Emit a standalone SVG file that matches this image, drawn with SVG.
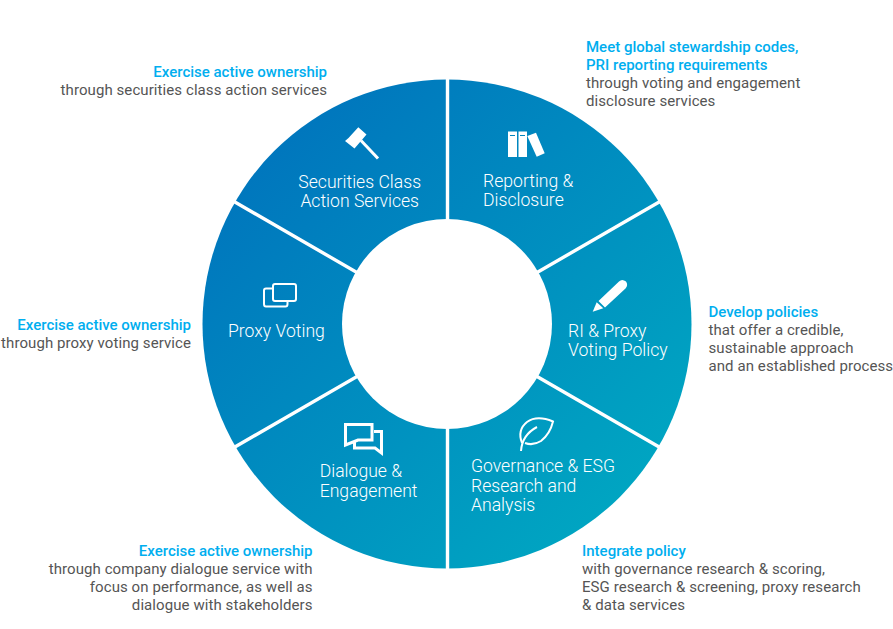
<svg xmlns="http://www.w3.org/2000/svg" width="893" height="629" viewBox="0 0 893 629">
<style>
.l{font-family:Roboto,"Liberation Sans",sans-serif;font-weight:300;font-size:17.6px;fill:#fff}
.h{font-family:Roboto,"Liberation Sans",sans-serif;font-weight:500;font-size:15px;fill:#00aeef}
.b{font-family:Roboto,"Liberation Sans",sans-serif;font-weight:400;font-size:15px;letter-spacing:.08px;fill:#555}
.e{text-anchor:end}
.s{fill:none;stroke:#fff;stroke-width:2}
.t{fill:none;stroke:#fff;stroke-width:3}
.f{fill:#fff}
.g{stroke:#fff;stroke-width:3.400;fill:none}
</style>
<defs>
<linearGradient id="grad" gradientUnits="userSpaceOnUse" x1="250" y1="120" x2="650" y2="530">
<stop offset="0" stop-color="#0073bd"/><stop offset="1" stop-color="#00a9c2"/>
</linearGradient>
</defs>
<rect width="893" height="629" fill="#fff"/>
<circle id="ring" cx="447" cy="324" r="244.500" fill="url(#grad)"/>
<g id="connectors">
<path class="g" d="M447.500 76V572M234 201.500L660 447.500M660 201.500L234 447.500"/>
</g>
<circle id="hub" cx="447" cy="324" r="105" fill="#fff"/>
<g id="securities">
<path class="f" d="M358.300 127.300L366.500 134.500L354.500 148.500L345 141L348.500 138Z"/>
<path class="t" d="M361 140.500L378 158.500" stroke-width="4"/>
<text class="l" text-anchor="middle" x="359.700" y="188">Securities Class</text>
<text class="l" text-anchor="middle" x="359.700" y="207">Action Services</text>
<text class="h e" x="327" y="77">Exercise active ownership</text>
<text class="b e" x="327" y="95">through securities class action services</text>
</g>
<g id="reporting">
<path class="f" fill-rule="evenodd" d="M508 131.500H517V157H508ZM510 135V136H515V135Z"/>
<path class="f" fill-rule="evenodd" d="M518.500 131.500H527V157H518.500ZM520 135V136H525V135Z"/>
<path class="f" d="M527.300 136L536 132.700L544.700 153.300L536.700 156.700Z"/>
<text class="l" x="483" y="187">Reporting &amp;</text>
<text class="l" x="483" y="206">Disclosure</text>
<text class="h" x="586" y="52">Meet global stewardship codes,</text>
<text class="h" x="586" y="70">PRI reporting requirements</text>
<text class="b" x="586" y="88">through voting and engagement</text>
<text class="b" x="586" y="106">disclosure services</text>
</g>
<g id="policy">
<path class="f" d="M598.500 301L619 281.500Q622 278.500 626 281.500Q628.500 285 625.500 288.500L605 307.500Z"/>
<path class="f" d="M596.700 302.300L603.300 308.300L592.700 311.700Z"/>
<text class="l" x="568" y="337">RI &amp; Proxy</text>
<text class="l" x="568" y="356">Voting Policy</text>
<text class="h" x="708.500" y="317">Develop policies</text>
<text class="b" x="708.500" y="335">that offer a credible,</text>
<text class="b" x="708.500" y="353">sustainable approach</text>
<text class="b" x="708.500" y="371">and an established process</text>
</g>
<g id="governance">
<path class="s" d="M522 443Q517 430 527 422Q537 415 553 421.500Q550 434 541 441Q533 446 525 443"/>
<path class="s" d="M521 451Q522 435 537 427"/>
<text class="l" x="471" y="472">Governance &amp; ESG</text>
<text class="l" x="471" y="492">Research and</text>
<text class="l" x="471" y="511">Analysis</text>
<text class="h" x="582" y="556">Integrate policy</text>
<text class="b" x="582" y="574">with governance research &amp; scoring,</text>
<text class="b" x="582" y="592">ESG research &amp; screening, proxy research</text>
<text class="b" x="582" y="610">&amp; data services</text>
</g>
<g id="dialogue">
<path class="t" d="M345.500 424.500H372V440H358L345.500 445Z"/>
<path class="t" d="M374 431.500H381.500V453L375 448H354.500V442"/>
<text class="l" x="319.700" y="477">Dialogue &amp;</text>
<text class="l" x="319.700" y="497">Engagement</text>
<text class="h e" x="312.500" y="556">Exercise active ownership</text>
<text class="b e" x="312.500" y="574">through company dialogue service with</text>
<text class="b e" x="312.500" y="592">focus on performance, as well as</text>
<text class="b e" x="312.500" y="610">dialogue with stakeholders</text>
</g>
<g id="proxy">
<rect class="s" x="273" y="284" width="23" height="17" rx="2"/>
<path class="s" d="M273 288.500H266Q264 288.500 264 290.500V304Q264 306.500 266 306.500H285.500Q287.500 306.500 287.500 304V301"/>
<text class="l" x="228" y="337">Proxy Voting</text>
<text class="h e" x="191" y="330">Exercise active ownership</text>
<text class="b e" x="191" y="348">through proxy voting service</text>
</g>
</svg>
